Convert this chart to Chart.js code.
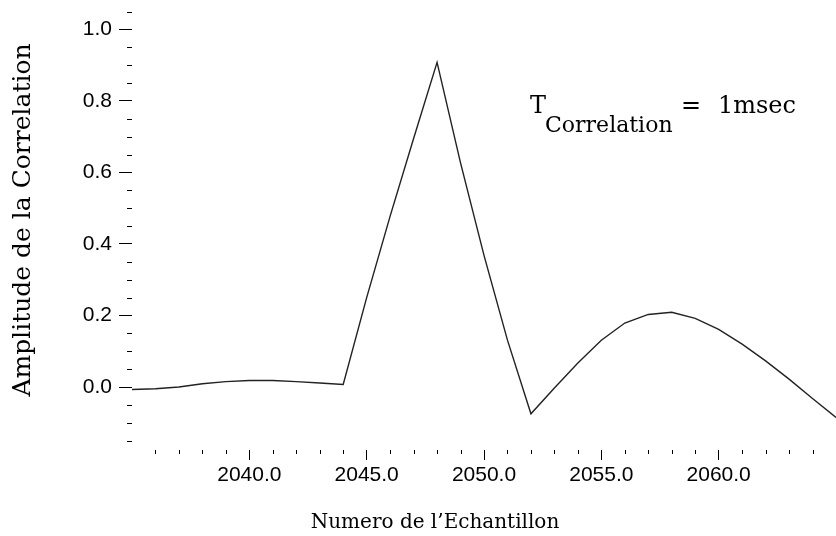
<!DOCTYPE html>
<html>
<head>
<meta charset="utf-8">
<script src="https://cdn.jsdelivr.net/npm/chart.js@4.4.0/dist/chart.umd.min.js"></script>
<style>
  body { margin: 0; background: #fff; }
  #chart { display: block; }
</style>
</head>
<body>
<canvas id="chart" width="836" height="536"></canvas>
<script>
var sampleNumbers = [2035, 2036, 2037, 2038, 2039, 2040, 2041, 2042, 2043, 2044,
    2045, 2046, 2047, 2048, 2049, 2050, 2051, 2052, 2053, 2054,
    2055, 2056, 2057, 2058, 2059, 2060, 2061, 2062, 2063, 2064, 2065];
var correlation = [-0.007, -0.005, 0.000, 0.009, 0.015, 0.018, 0.018, 0.015, 0.011, 0.007,
    0.250, 0.478, 0.695, 0.908, 0.627, 0.368, 0.131, -0.075, -0.003, 0.067,
    0.131, 0.179, 0.203, 0.209, 0.192, 0.161, 0.120, 0.073, 0.022, -0.032, -0.085];

var xMajorTicks = [2040, 2045, 2050, 2055, 2060];
var yMajorTicks = [0.0, 0.2, 0.4, 0.6, 0.8, 1.0];
var xMinorTicks = [2036, 2037, 2038, 2039, 2041, 2042, 2043, 2044, 2046, 2047, 2048, 2049,
    2051, 2052, 2053, 2054, 2056, 2057, 2058, 2059, 2061, 2062, 2063, 2064];
var yMinorTicks = [-0.15, -0.10, -0.05, 0.05, 0.10, 0.15, 0.25, 0.30, 0.35, 0.45, 0.50, 0.55,
    0.65, 0.70, 0.75, 0.85, 0.90, 0.95, 1.05];

var xTitle = "Numero de l\u2019Echantillon";
var yTitle = "Amplitude de la Correlation";

var serif = "'DejaVu Serif', serif";
var sans = "'Liberation Sans', Arial, sans-serif";

// minor ticks, axis titles and the T_Correlation note
var extras = {
    id: 'extras',
    afterDraw: function(chart) {
        var ctx = chart.ctx;
        var xs = chart.scales.x;
        var ys = chart.scales.y;
        ctx.save();
        ctx.strokeStyle = '#000';
        ctx.lineWidth = 1;
        ctx.beginPath();
        xMinorTicks.forEach(function(v) {
            var px = Math.round(xs.getPixelForValue(v)) + 0.5;
            ctx.moveTo(px, xs.top);
            ctx.lineTo(px, xs.top + 4);
        });
        yMinorTicks.forEach(function(v) {
            var py = Math.round(ys.getPixelForValue(v)) + 0.5;
            ctx.moveTo(ys.right - 5, py);
            ctx.lineTo(ys.right, py);
        });
        ctx.stroke();

        ctx.fillStyle = '#000';
        ctx.textBaseline = 'alphabetic';
        ctx.textAlign = 'center';
        ctx.font = '20px ' + serif;
        ctx.fillText(xTitle, 435, 528);

        ctx.save();
        ctx.translate(23, 220);
        ctx.rotate(-Math.PI / 2);
        ctx.textBaseline = 'middle';
        ctx.font = '25px ' + serif;
        ctx.fillText(yTitle, 0, 0);
        ctx.restore();

        ctx.textAlign = 'left';
        ctx.font = '24px ' + serif;
        ctx.fillText('T', 530, 113);
        ctx.font = '22px ' + serif;
        ctx.fillText('Correlation', 545, 132);
        ctx.font = '24px ' + serif;
        ctx.fillText('=', 681, 113);
        ctx.fillText('1msec', 718, 113);
        ctx.restore();
    }
};

var points = sampleNumbers.map(function(s, i) {
    return { x: s, y: correlation[i] };
});

var config = {
    type: 'line',
    data: {
        datasets: [{
            data: points,
            borderColor: '#222',
            borderWidth: 1.4,
            pointRadius: 0,
            tension: 0,
            fill: false
        }]
    },
    options: {
        responsive: false,
        animation: false,
        layout: { padding: { top: 8, right: 0, left: 0, bottom: 0 } },
        plugins: {
            legend: { display: false },
            tooltip: { enabled: false }
        },
        scales: {
            x: {
                type: 'linear',
                min: 2035,
                max: 2065,
                border: { display: false },
                grid: { drawOnChartArea: false, drawTicks: true, tickLength: 10, tickColor: '#000', tickWidth: 1 },
                ticks: {
                    color: '#000',
                    font: { family: sans, size: 21 },
                    padding: 3,
                    maxRotation: 0,
                    callback: function(v) { return Number(v).toFixed(1); }
                },
                afterBuildTicks: function(scale) {
                    scale.ticks = xMajorTicks.map(function(v) { return { value: v }; });
                },
                afterFit: function(scale) {
                    scale.height = 86;
                    scale.paddingLeft = 0;
                    scale.paddingRight = 0;
                }
            },
            y: {
                type: 'linear',
                min: -0.1762,
                max: 1.0601,
                border: { display: false },
                grid: { drawOnChartArea: false, drawTicks: true, tickLength: 13, tickColor: '#000', tickWidth: 1 },
                ticks: {
                    color: '#000',
                    font: { family: sans, size: 21 },
                    padding: 7,
                    callback: function(v) { return Number(v).toFixed(1); }
                },
                afterBuildTicks: function(scale) {
                    scale.ticks = yMajorTicks.map(function(v) { return { value: v }; });
                },
                afterFit: function(scale) {
                    scale.width = 132;
                    scale.paddingTop = 0;
                    scale.paddingBottom = 0;
                }
            }
        }
    },
    plugins: [extras]
};

var ctx = document.getElementById('chart');
window.myChart = new Chart(ctx, config);
</script>
</body>
</html>
